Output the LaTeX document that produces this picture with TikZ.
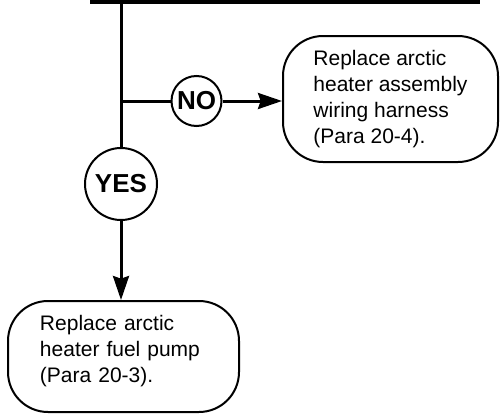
\documentclass[tikz,border=0pt]{standalone}
\usepackage{fontspec}
\setmainfont{Liberation Sans}
\usetikzlibrary{arrows.meta}

\begin{document}
\begin{tikzpicture}[x=0.75pt,y=-0.75pt,
  answer/.style={draw,circle,line width=1.5pt,inner sep=0pt,font=\fontsize{19.5}{20}\selectfont\bfseries},
  action/.style={draw,rounded corners=30pt,line width=1.5pt,align=left,font=\fontsize{15.75}{19.5}\selectfont},
  flow/.style={line width=2.25pt,-{Stealth[length=18pt,width=12pt,inset=2pt]}}]
  \useasboundingbox (0,0) rectangle (500,414);
  %top bar
  \draw[line width=6pt] (90,0) -- (480,0);
  %answers
  \node[answer,minimum size=54pt] (yes) at (121,184) {YES};
  \node[answer,minimum size=37.5pt] (no) at (196.5,101) {NO};
  %actions
  \node[action,minimum width=161.25pt,minimum height=94.5pt] (rh) at (390.5,99) {Replace arctic\\heater assembly\\wiring harness\\(Para 20-4).};
  \node[action,text width=125.25pt,text depth=50pt,minimum width=173.25pt,minimum height=83.25pt] (rp) at (123.5,356.5) {Replace arctic\\heater fuel pump\\(Para 20-3).};
  %trunk and fork
  \coordinate (top) at (121,0);
  \coordinate (fork) at (121,101);
  \draw[line width=2.25pt] (top) -- (yes);
  \draw[line width=2.25pt] (fork) -- (no);
  %arrows
  \draw[flow] (no) -- (no -| rh.west);
  \draw[flow] (yes) -- (yes |- rp.north);
\end{tikzpicture}
\end{document}
